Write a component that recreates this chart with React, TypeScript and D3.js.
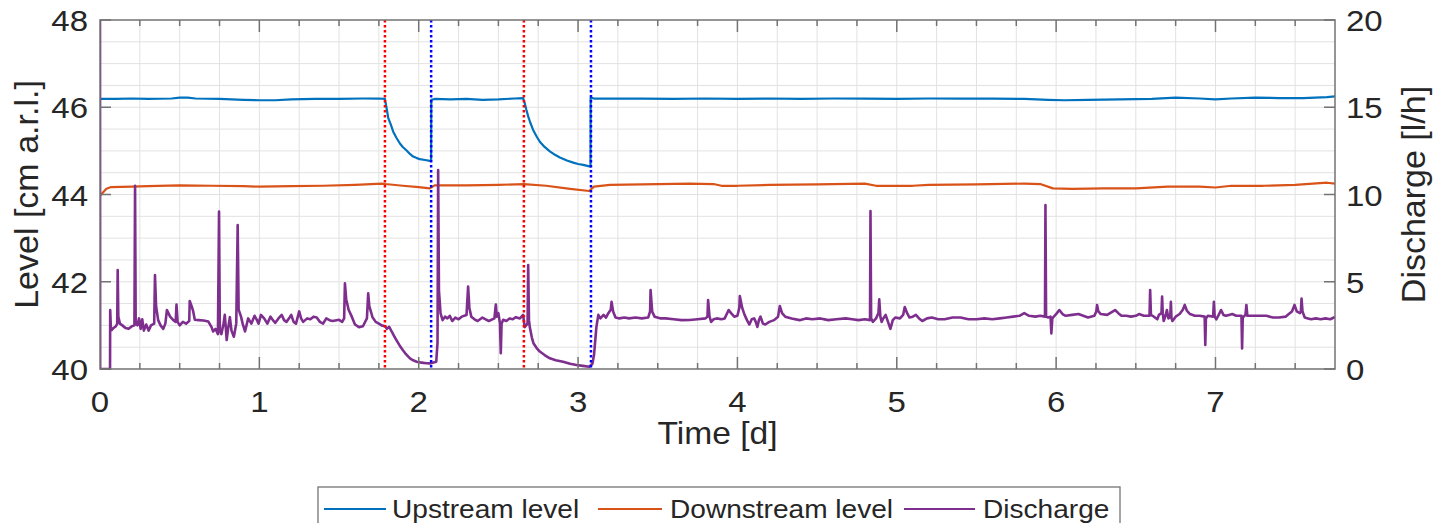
import React, { useEffect, useRef } from 'react';
import * as d3 from 'd3';

// time [d], level [cm a.r.l.]
const upstream: [number, number][] = [
  [0, 46.19], [0.1, 46.19], [0.2, 46.2], [0.3, 46.19], [0.45, 46.2], [0.5, 46.22], [0.55, 46.22],
  [0.6, 46.2], [0.75, 46.19], [0.9, 46.17], [1.0, 46.16], [1.1, 46.16], [1.2, 46.18], [1.35, 46.19],
  [1.5, 46.19], [1.65, 46.2], [1.75, 46.2], [1.788, 46.19], [1.8, 45.95], [1.809, 45.75], [1.825, 45.6],
  [1.84, 45.44], [1.86, 45.3], [1.882, 45.17], [1.9, 45.09], [1.924, 45.01], [1.945, 44.93], [1.965, 44.87],
  [1.985, 44.84], [2.007, 44.81], [2.04, 44.79], [2.07, 44.77], [2.078, 44.77], [2.079, 46.17], [2.1, 46.19],
  [2.2, 46.18], [2.3, 46.19], [2.4, 46.17], [2.5, 46.18], [2.6, 46.2], [2.655, 46.21], [2.665, 46.1],
  [2.675, 45.95], [2.687, 45.79], [2.7, 45.65], [2.718, 45.48], [2.74, 45.33], [2.76, 45.21], [2.79, 45.09],
  [2.823, 44.99], [2.855, 44.91], [2.886, 44.85], [2.93, 44.78], [2.97, 44.73], [3.0, 44.7], [3.032, 44.68],
  [3.078, 44.64], [3.079, 46.22], [3.1, 46.2], [3.2, 46.2], [3.4, 46.2], [3.6, 46.19], [3.8, 46.2],
  [4.0, 46.19], [4.2, 46.2], [4.4, 46.19], [4.6, 46.2], [4.8, 46.2], [5.0, 46.19], [5.2, 46.2], [5.4, 46.2],
  [5.6, 46.2], [5.8, 46.19], [5.95, 46.17], [6.05, 46.16], [6.2, 46.17], [6.4, 46.18], [6.6, 46.19],
  [6.75, 46.22], [6.9, 46.2], [7.0, 46.18], [7.1, 46.2], [7.25, 46.22], [7.4, 46.21], [7.55, 46.21],
  [7.7, 46.23], [7.75, 46.25],
];

const downstream: [number, number][] = [
  [0, 43.97], [0.02, 44.05], [0.04, 44.13], [0.07, 44.17], [0.2, 44.18], [0.3, 44.19], [0.5, 44.21],
  [0.7, 44.2], [0.9, 44.19], [1.0, 44.18], [1.2, 44.19], [1.4, 44.2], [1.6, 44.22], [1.77, 44.25],
  [1.79, 44.24], [1.9, 44.2], [2.0, 44.17], [2.07, 44.14], [2.1, 44.21], [2.3, 44.21], [2.5, 44.22],
  [2.66, 44.24], [2.8, 44.2], [2.95, 44.13], [3.07, 44.08], [3.1, 44.18], [3.2, 44.22], [3.5, 44.24],
  [3.7, 44.25], [3.85, 44.24], [3.9, 44.2], [4.0, 44.2], [4.2, 44.22], [4.5, 44.23], [4.8, 44.25],
  [4.87, 44.2], [5.0, 44.2], [5.1, 44.2], [5.2, 44.22], [5.5, 44.23], [5.8, 44.25], [5.9, 44.24],
  [5.98, 44.14], [6.1, 44.13], [6.3, 44.14], [6.5, 44.14], [6.7, 44.18], [6.9, 44.18], [7.0, 44.16],
  [7.1, 44.2], [7.3, 44.2], [7.5, 44.22], [7.7, 44.27], [7.75, 44.25],
];

// time [d], discharge [l/h]
const discharge: [number, number][] = [
  [0, 20], [0.001, 0], [0.063, 0], [0.064, 3.38], [0.068, 2.4], [0.073, 2.23], [0.085, 2.35], [0.1, 2.45],
  [0.108, 2.6], [0.111, 5.67], [0.115, 3.0], [0.125, 2.6], [0.14, 2.5], [0.16, 2.35], [0.18, 2.3],
  [0.2, 2.45], [0.216, 2.5], [0.22, 10.5], [0.224, 2.6], [0.235, 2.5], [0.245, 2.9], [0.255, 2.3],
  [0.265, 2.85], [0.275, 2.2], [0.29, 2.55], [0.305, 2.2], [0.32, 2.5], [0.34, 2.6], [0.345, 5.39],
  [0.352, 3.6], [0.365, 2.8], [0.38, 2.5], [0.397, 2.3], [0.41, 2.6], [0.42, 3.38], [0.44, 3.0],
  [0.46, 2.8], [0.475, 2.7], [0.48, 3.7], [0.487, 2.7], [0.5, 2.5], [0.52, 2.7], [0.54, 2.6], [0.56, 2.75],
  [0.563, 3.9], [0.575, 3.6], [0.585, 3.3], [0.595, 2.82], [0.62, 2.8], [0.65, 2.78], [0.68, 2.72],
  [0.7, 2.4], [0.71, 2.15], [0.725, 2.3], [0.74, 2.0], [0.747, 9.02], [0.752, 2.2], [0.762, 2.0],
  [0.775, 2.6], [0.783, 3.1], [0.79, 2.3], [0.795, 1.66], [0.805, 2.4], [0.815, 2.97], [0.825, 2.2],
  [0.84, 1.85], [0.855, 2.6], [0.864, 8.25], [0.87, 3.4], [0.885, 3.0], [0.895, 2.6], [0.91, 2.15],
  [0.93, 2.9], [0.95, 2.6], [0.97, 3.05], [0.985, 2.8], [0.995, 2.6], [1.01, 3.1], [1.03, 2.9],
  [1.05, 2.6], [1.07, 3.0], [1.085, 2.8], [1.1, 2.65], [1.12, 2.9], [1.14, 3.1], [1.155, 2.8], [1.17, 2.7],
  [1.19, 2.95], [1.2, 3.1], [1.215, 2.7], [1.23, 2.6], [1.25, 3.3], [1.262, 2.9], [1.275, 2.7], [1.3, 2.9],
  [1.32, 2.85], [1.34, 3.0], [1.36, 2.95], [1.38, 2.7], [1.4, 2.6], [1.42, 2.9], [1.44, 2.8], [1.46, 2.75],
  [1.5, 2.82], [1.52, 2.7], [1.532, 2.9], [1.537, 4.91], [1.545, 4.0], [1.56, 3.4], [1.58, 3.0],
  [1.6, 2.55], [1.625, 2.4], [1.65, 2.45], [1.675, 2.9], [1.683, 4.34], [1.69, 3.6], [1.71, 2.97],
  [1.73, 2.7], [1.75, 2.6], [1.767, 2.5], [1.79, 2.45], [1.8, 2.3], [1.815, 2.42], [1.83, 2.15],
  [1.845, 1.9], [1.86, 1.66], [1.88, 1.35], [1.9, 1.09], [1.92, 0.85], [1.945, 0.61], [1.965, 0.5],
  [1.987, 0.42], [2.01, 0.38], [2.03, 0.35], [2.05, 0.33], [2.07, 0.32], [2.11, 0.42], [2.118, 1.5],
  [2.122, 11.4], [2.127, 4.5], [2.137, 3.19], [2.15, 2.8], [2.165, 3.0], [2.18, 2.9], [2.195, 3.05],
  [2.21, 2.75], [2.23, 2.95], [2.25, 2.85], [2.27, 3.0], [2.3, 3.1], [2.31, 4.72], [2.318, 3.5],
  [2.33, 3.0], [2.35, 2.85], [2.37, 2.75], [2.4, 2.95], [2.42, 2.85], [2.44, 2.75], [2.475, 2.9],
  [2.484, 3.7], [2.49, 3.0], [2.5, 3.2], [2.51, 2.6], [2.515, 0.9], [2.52, 2.6], [2.53, 2.82], [2.55, 2.75],
  [2.57, 2.9], [2.59, 2.85], [2.61, 2.97], [2.635, 2.9], [2.655, 3.1], [2.665, 2.4], [2.683, 2.6],
  [2.687, 5.96], [2.692, 2.8], [2.697, 2.4], [2.71, 1.8], [2.72, 1.48], [2.74, 1.2], [2.76, 1.0],
  [2.79, 0.8], [2.823, 0.61], [2.86, 0.5], [2.906, 0.42], [2.95, 0.3], [2.99, 0.23], [3.03, 0.18],
  [3.07, 0.13], [3.09, 0.3], [3.1, 0.8], [3.115, 2.4], [3.127, 3.1], [3.14, 2.9], [3.16, 3.1],
  [3.175, 2.95], [3.19, 3.2], [3.205, 3.4], [3.21, 3.85], [3.22, 3.3], [3.235, 2.95], [3.26, 2.9],
  [3.29, 2.95], [3.32, 2.9], [3.36, 2.95], [3.4, 2.9], [3.44, 2.95], [3.452, 3.3], [3.455, 4.53],
  [3.465, 3.3], [3.48, 3.0], [3.52, 2.9], [3.55, 2.9], [3.6, 2.85], [3.65, 2.8], [3.7, 2.81], [3.75, 2.85],
  [3.8, 2.9], [3.812, 3.0], [3.816, 3.95], [3.825, 3.0], [3.835, 2.7], [3.85, 2.85], [3.87, 2.9],
  [3.9, 2.85], [3.92, 2.9], [3.945, 3.38], [3.96, 3.2], [3.98, 3.0], [4.0, 3.05], [4.012, 3.5],
  [4.015, 4.18], [4.03, 3.5], [4.045, 3.1], [4.06, 2.8], [4.075, 2.55], [4.09, 2.85], [4.105, 2.9],
  [4.115, 2.7], [4.125, 2.41], [4.135, 2.8], [4.145, 3.0], [4.16, 2.6], [4.175, 2.55], [4.2, 2.7],
  [4.23, 2.8], [4.255, 3.0], [4.266, 3.61], [4.28, 3.2], [4.3, 3.0], [4.34, 2.9], [4.39, 2.8], [4.43, 2.9],
  [4.47, 2.85], [4.52, 2.9], [4.57, 2.8], [4.62, 2.85], [4.68, 2.9], [4.72, 2.85], [4.76, 2.8],
  [4.8, 2.85], [4.832, 2.8], [4.835, 9.05], [4.839, 2.9], [4.85, 2.7], [4.87, 2.9], [4.885, 3.2],
  [4.89, 3.99], [4.897, 3.0], [4.905, 2.7], [4.915, 2.9], [4.93, 3.1], [4.945, 2.7], [4.96, 2.3],
  [4.975, 2.8], [4.99, 2.95], [5.02, 2.9], [5.04, 3.1], [5.05, 3.55], [5.065, 3.2], [5.08, 2.95],
  [5.1, 3.0], [5.12, 3.1], [5.14, 2.9], [5.16, 2.75], [5.19, 2.9], [5.22, 2.95], [5.26, 2.85], [5.3, 2.85],
  [5.35, 2.95], [5.4, 2.95], [5.45, 2.85], [5.5, 2.85], [5.55, 2.9], [5.6, 2.85], [5.646, 2.9],
  [5.69, 2.95], [5.73, 3.0], [5.77, 3.05], [5.8, 3.2], [5.83, 3.05], [5.87, 3.0], [5.9, 3.05],
  [5.93, 3.0], [5.933, 9.4], [5.937, 3.0], [5.95, 2.95], [5.965, 3.0], [5.97, 2.04], [5.976, 2.9],
  [5.99, 3.05], [6.005, 3.2], [6.02, 3.38], [6.04, 3.15], [6.06, 3.05], [6.1, 3.1], [6.14, 3.15],
  [6.17, 3.05], [6.2, 2.95], [6.24, 3.05], [6.252, 3.3], [6.257, 3.67], [6.265, 3.3], [6.28, 3.15],
  [6.32, 3.1], [6.37, 3.38], [6.39, 3.2], [6.41, 3.05], [6.44, 3.05], [6.47, 3.0], [6.5, 3.05],
  [6.52, 3.15], [6.55, 3.05], [6.586, 3.05], [6.59, 4.53], [6.595, 3.1], [6.605, 3.05], [6.62, 2.95],
  [6.635, 2.85], [6.645, 3.1], [6.661, 3.2], [6.665, 4.15], [6.669, 3.2], [6.675, 2.75], [6.685, 3.0],
  [6.695, 3.38], [6.705, 2.9], [6.716, 3.0], [6.72, 3.85], [6.724, 2.9], [6.73, 2.75], [6.75, 3.0],
  [6.775, 3.15], [6.795, 3.4], [6.807, 3.67], [6.82, 3.35], [6.84, 3.15], [6.87, 3.05], [6.9, 3.05],
  [6.932, 3.0], [6.936, 1.38], [6.94, 2.9], [6.952, 3.05], [6.985, 3.0], [6.99, 3.85], [6.995, 3.0],
  [7.005, 2.85], [7.02, 3.1], [7.035, 3.38], [7.05, 3.1], [7.065, 3.05], [7.085, 3.1], [7.105, 3.15],
  [7.13, 3.05], [7.163, 3.05], [7.167, 1.18], [7.171, 2.95], [7.188, 3.1], [7.194, 3.67], [7.2, 3.05],
  [7.215, 3.05], [7.26, 3.05], [7.32, 3.05], [7.36, 2.95], [7.4, 2.95], [7.44, 3.0], [7.46, 3.15],
  [7.48, 3.3], [7.496, 3.67], [7.51, 3.3], [7.53, 3.2], [7.536, 3.3], [7.54, 4.04], [7.546, 3.3],
  [7.56, 2.95], [7.58, 2.9], [7.6, 2.85], [7.63, 2.9], [7.66, 2.85], [7.69, 2.9], [7.72, 2.85], [7.75, 2.98],
];

const gateClosed = [1.788, 2.66]; // red dotted
const gateOpened = [2.078, 3.081]; // blue dotted

const timeTicks = [0, 1, 2, 3, 4, 5, 6, 7];
const levelTicks = [40, 42, 44, 46, 48];
const dischargeTicks = [0, 5, 10, 15, 20];

const seriesNames = ['Upstream level', 'Downstream level', 'Discharge'];
const seriesColors = ['#0072BD', '#D95319', '#7E2F8E'];

const FONT = "'Liberation Sans', Arial, Helvetica, sans-serif";
const TXT = '#262626';

export default function App() {
  const ref = useRef<SVGSVGElement>(null);

  useEffect(() => {
    document.body.style.margin = '0';
    const svg = d3.select(ref.current);
    svg.selectAll('*').remove();

    const W = 1433;
    const left = 100, right = 1335, top = 20, bottom = 369;

    const x = d3.scaleLinear().domain([0, 7.75]).range([left, right]);
    const yL = d3.scaleLinear().domain([40, 48]).range([bottom, top]);
    const yR = d3.scaleLinear().domain([0, 20]).range([bottom, top]);

    svg.append('rect').attr('width', W).attr('height', 523).attr('fill', '#fff');

    // grid
    const grid = svg.append('g').attr('stroke', '#e2e2e2').attr('stroke-width', 1);
    d3.range(0.25, 7.75, 0.25).forEach((t) => {
      grid.append('line').attr('x1', x(t)).attr('x2', x(t)).attr('y1', top).attr('y2', bottom);
    });
    d3.range(40.5, 48, 0.5).forEach((l) => {
      grid.append('line').attr('x1', left).attr('x2', right).attr('y1', yL(l)).attr('y2', yL(l));
    });

    svg.append('clipPath').attr('id', 'plotclip')
      .append('rect').attr('x', left).attr('y', top - 1).attr('width', right - left).attr('height', bottom - top + 2);

    const plot = svg.append('g').attr('clip-path', 'url(#plotclip)');

    const lineL = d3.line<[number, number]>().x((d) => x(d[0])).y((d) => yL(d[1]));
    const lineR = d3.line<[number, number]>().x((d) => x(d[0])).y((d) => yR(d[1]));

    plot.append('path').datum(upstream).attr('d', lineL)
      .attr('fill', 'none').attr('stroke', seriesColors[0]).attr('stroke-width', 2.2).attr('stroke-linejoin', 'round');
    plot.append('path').datum(downstream).attr('d', lineL)
      .attr('fill', 'none').attr('stroke', seriesColors[1]).attr('stroke-width', 2.2).attr('stroke-linejoin', 'round');
    plot.append('path').datum(discharge).attr('d', lineR)
      .attr('fill', 'none').attr('stroke', seriesColors[2]).attr('stroke-width', 2.6).attr('stroke-linejoin', 'round');

    // event markers
    gateClosed.forEach((t) => {
      plot.append('line').attr('x1', x(t)).attr('x2', x(t)).attr('y1', top).attr('y2', bottom)
        .attr('stroke', '#ff0000').attr('stroke-width', 2.5).attr('stroke-dasharray', '2.5,2.5');
    });
    gateOpened.forEach((t) => {
      plot.append('line').attr('x1', x(t)).attr('x2', x(t)).attr('y1', top).attr('y2', bottom)
        .attr('stroke', '#0000ff').attr('stroke-width', 2.5).attr('stroke-dasharray', '2.5,2.5');
    });

    // frame + ticks
    const axis = svg.append('g').attr('stroke', '#737373').attr('stroke-width', 1.5).attr('fill', 'none');
    axis.append('rect').attr('x', left).attr('y', top).attr('width', right - left).attr('height', bottom - top);
    d3.range(0.25, 7.75, 0.25).forEach((t) => {
      const len = Number.isInteger(t) ? 12 : 6;
      axis.append('line').attr('x1', x(t)).attr('x2', x(t)).attr('y1', bottom).attr('y2', bottom - len);
      axis.append('line').attr('x1', x(t)).attr('x2', x(t)).attr('y1', top).attr('y2', top + len);
    });
    levelTicks.forEach((l) => {
      axis.append('line').attr('x1', left).attr('x2', left + 11).attr('y1', yL(l)).attr('y2', yL(l));
    });
    dischargeTicks.forEach((v) => {
      axis.append('line').attr('x1', right).attr('x2', right - 11).attr('y1', yR(v)).attr('y2', yR(v));
    });

    const text = (px: number, py: number, s: string, size: number, anchor: string, sx = 1.1, rot = 0) => {
      svg.append('text')
        .attr('transform', `translate(${px},${py}) rotate(${rot}) scale(${sx},1)`)
        .attr('text-anchor', anchor)
        .attr('font-family', FONT).attr('font-size', size).attr('fill', TXT)
        .text(s);
    };

    timeTicks.forEach((t) => text(x(t), 412, String(t), 30, 'middle'));
    levelTicks.forEach((l) => text(88, yL(l) + 11, String(l), 30, 'end'));
    dischargeTicks.forEach((v) => text(1346, yR(v) + 11, String(v), 30, 'start'));

    text((left + right) / 2, 444, 'Time [d]', 32, 'middle', 1.05);
    text(38, (top + bottom) / 2, 'Level [cm a.r.l.]', 34, 'middle', 1, -90);
    text(1425, (top + bottom) / 2, 'Discharge [l/h]', 34, 'middle', 1, -90);

    // legend
    const lg = svg.append('g');
    lg.append('rect').attr('x', 318).attr('y', 487).attr('width', 802).attr('height', 60)
      .attr('fill', '#fff').attr('stroke', '#737373').attr('stroke-width', 1.3);
    const legendX = [
      { l0: 324, l1: 386, tx: 392 },
      { l0: 598, l1: 662, tx: 670 },
      { l0: 904, l1: 975, tx: 983 },
    ];
    seriesNames.forEach((name, i) => {
      const p = legendX[i];
      lg.append('line').attr('x1', p.l0).attr('x2', p.l1).attr('y1', 509).attr('y2', 509)
        .attr('stroke', seriesColors[i]).attr('stroke-width', 2.2);
      text(p.tx, 518, name, 26, 'start', 1.08);
    });
  }, []);

  return <svg ref={ref} width={1433} height={523} style={{ display: 'block' }} />;
}
